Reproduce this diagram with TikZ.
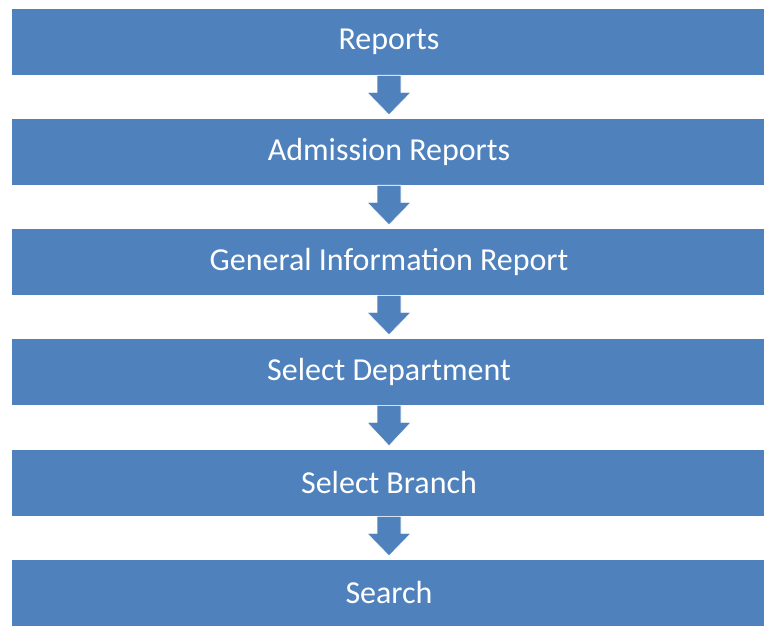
\documentclass[tikz,border=0pt]{standalone}
\usepackage{fontspec}
\setmainfont{Carlito}
\usetikzlibrary{calc}
\definecolor{boxblue}{HTML}{4F81BD}
\tikzset{
  stepbox/.style={rectangle, fill=boxblue, draw=none, minimum width=754*0.75pt, minimum height=66*0.75pt, inner sep=0pt, text=white, font=\fontsize{24}{28}\selectfont},
  flowarrow/.style={fill=boxblue, draw=white, line width=0.4pt}
}
\newcommand{\downarrowshape}[2]{%
  \filldraw[flowarrow] ($(#1.south)+(-12,0)$) -- ($(#1.south)+(12,0)$) -- ($(#1.south)+(12,17)$) -- ($(#1.south)+(22,17)$) -- ($(#2.north)+(0,-4)$) -- ($(#1.south)+(-22,17)$) -- ($(#1.south)+(-12,17)$) -- cycle;}
\begin{document}
\begin{tikzpicture}[x=0.75pt,y=-0.75pt]
\useasboundingbox (0,0) rectangle (764,631);
\begin{scope}
\clip (0,0) rectangle (764,631);
\node[stepbox] (n1) at (389,42) {Reports};
\node[stepbox] (n2) at (389,152) {Admission Reports};
\node[stepbox] (n3) at (389,262) {General Information Report};
\node[stepbox] (n4) at (389,372) {Select Department};
\node[stepbox] (n5) at (389,483) {Select Branch};
\node[stepbox] (n6) at (389,593) {Search};
\downarrowshape{n1}{n2}
\downarrowshape{n2}{n3}
\downarrowshape{n3}{n4}
\downarrowshape{n4}{n5}
\downarrowshape{n5}{n6}
\end{scope}
\end{tikzpicture}
\end{document}
